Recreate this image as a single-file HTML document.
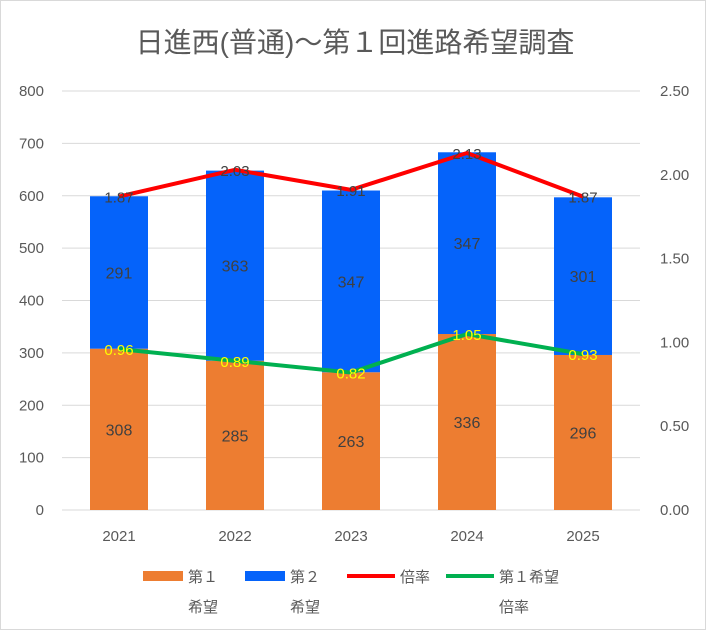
<!DOCTYPE html>
<html><head><meta charset="utf-8"><style>
body{margin:0;background:#fff}
svg text{font-family:"Liberation Sans","Noto Sans CJK JP",sans-serif}
</style></head><body>
<svg id="c" width="706" height="630" xmlns="http://www.w3.org/2000/svg">
<rect x="0.5" y="0.5" width="705" height="629" fill="#fff" stroke="#d9d9d9"/>
<text x="355" y="52" text-anchor="middle" font-size="28" fill="#595959">日進西(普通)～第１回進路希望調査</text>
<g id="grid"></g><g id="bars"></g><g id="lines"></g><g id="labels"></g>
<g>
<rect x="143" y="571" width="40" height="10" fill="#ed7d31"/>
<text x="188" y="582" font-size="15" fill="#595959">第１</text>
<text x="188" y="612" font-size="15" fill="#595959">希望</text>
<rect x="245" y="571" width="40" height="10" fill="#0563fa"/>
<text x="290" y="582" font-size="15" fill="#595959">第２</text>
<text x="290" y="612" font-size="15" fill="#595959">希望</text>
<line x1="347" y1="576" x2="395" y2="576" stroke="#ff0000" stroke-width="4"/>
<text x="400" y="582" font-size="15" fill="#595959">倍率</text>
<line x1="446" y1="576" x2="494" y2="576" stroke="#00b050" stroke-width="4"/>
<text x="499" y="582" font-size="15" fill="#595959">第１希望</text>
<text x="499" y="612" font-size="15" fill="#595959">倍率</text>
</g>
</svg>
<script>
const categories=["2021","2022","2023","2024","2025"];
const first=[308,285,263,336,296];
const second=[291,363,347,347,301];
const ratio=[1.87,2.03,1.91,2.13,1.87];
const firstRatio=[0.96,0.89,0.82,1.05,0.93];
const leftTicks=[0,100,200,300,400,500,600,700,800];
const rightTicks=["0.00","0.50","1.00","1.50","2.00","2.50"];
const NS="http://www.w3.org/2000/svg";
const y0=510,yTop=91,xL=62,xR=640;
const yL=v=>y0-(v/800)*(y0-yTop);
const yR=v=>y0-(v/2.5)*(y0-yTop);
const xC=i=>119+i*116;
const bw=58;
function mk(t,a,p,txt){const e=document.createElementNS(NS,t);for(const k in a)e.setAttribute(k,a[k]);if(txt!==undefined)e.textContent=txt;p.appendChild(e);return e;}
const g=document.getElementById('grid'),b=document.getElementById('bars'),l=document.getElementById('lines'),lb=document.getElementById('labels');
leftTicks.forEach(v=>{
 const ln=mk('line',{x1:xL,x2:xR,y1:yL(v),y2:yL(v),stroke:'#d9d9d9'},g);
 
 
 const t=mk('text',{x:44,y:yL(v)+5,'text-anchor':'end','font-size':15,fill:'#595959'},g,v);
 
 
});
rightTicks.forEach(v=>{
 const t=mk('text',{x:660,y:yR(+v)+5,'font-size':15,fill:'#595959'},g,v);
 
 
});
categories.forEach((c,i)=>{
 const t=mk('text',{x:xC(i),y:541,'text-anchor':'middle','font-size':15,fill:'#595959'},g,c);
 
 
 const r1=mk('rect',{x:xC(i)-bw/2,y:yL(first[i]),width:bw,height:y0-yL(first[i]),fill:'#ed7d31'},b);
 
 
 const r2=mk('rect',{x:xC(i)-bw/2,y:yL(first[i]+second[i]),width:bw,height:yL(first[i])-yL(first[i]+second[i]),fill:'#0563fa'},b);
 
 
 const t1=mk('text',{x:xC(i),y:(yL(first[i])+y0)/2+6,'text-anchor':'middle','font-size':16,fill:'#404040'},lb,first[i]);
 
 
 const t2=mk('text',{x:xC(i),y:(yL(first[i])+yL(first[i]+second[i]))/2+6,'text-anchor':'middle','font-size':16,fill:'#404040'},lb,second[i]);
 
 
 const t3=mk('text',{x:xC(i),y:yR(ratio[i])+6,'text-anchor':'middle','font-size':15,fill:'#404040'},lb,ratio[i].toFixed(2));
 
 
 const t4=mk('text',{x:xC(i),y:yR(firstRatio[i])+6,'text-anchor':'middle','font-size':15,fill:'#ffff00'},lb,firstRatio[i].toFixed(2));
 
 
});
const p1=mk('polyline',{points:ratio.map((v,i)=>xC(i)+','+yR(v)).join(' '),fill:'none',stroke:'#ff0000','stroke-width':4,'stroke-linejoin':'round'},l);


const p2=mk('polyline',{points:firstRatio.map((v,i)=>xC(i)+','+yR(v)).join(' '),fill:'none',stroke:'#00b050','stroke-width':4,'stroke-linejoin':'round'},l);


</script>
</body></html>
